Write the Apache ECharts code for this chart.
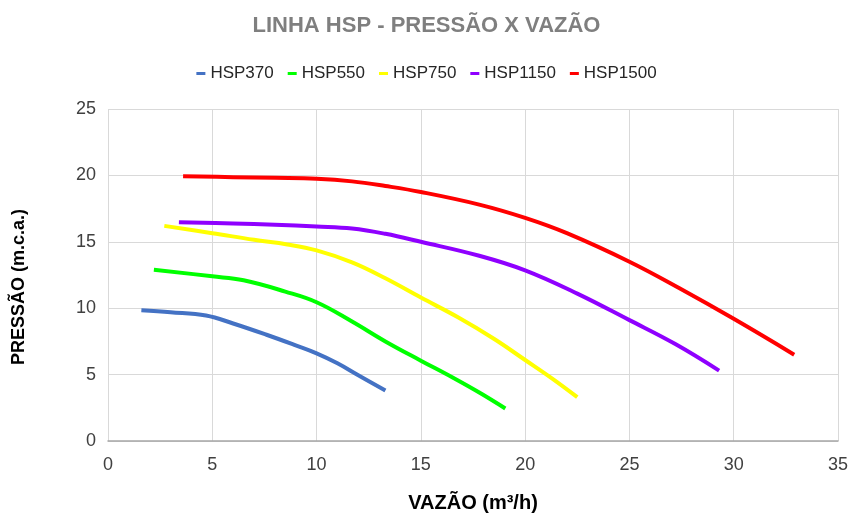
<!DOCTYPE html>
<html><head><meta charset="utf-8">
<script src="https://cdn.jsdelivr.net/npm/echarts@6/dist/echarts.min.js"></script>
<style>html,body{margin:0;padding:0;background:#fff}#c{width:853px;height:518px}</style>
</head><body><div id="c"></div>
<script>
const seriesNames = ['HSP370','HSP550','HSP750','HSP1150','HSP1500'];
const seriesColors = ['#4472C4','#00FF00','#FFFF00','#8F00FF','#FF0000'];
const hsp370 = [[1.6,9.85],[3,9.7],[4.7,9.45],[6,8.85],[7.6,8.0],[9,7.2],[10,6.6],[11,5.85],[12,4.95],[13.3,3.8]];
const hsp550 = [[2.2,12.9],[5,12.4],[6.5,12.1],[8.5,11.25],[10,10.45],[11.7,9.0],[13.3,7.5],[15,6.05],[16.5,4.8],[17.8,3.65],[19.05,2.45]];
const hsp750 = [[2.7,16.2],[5,15.65],[7,15.15],[8.6,14.8],[10,14.35],[11.7,13.45],[13.3,12.25],[15,10.8],[16.8,9.3],[18.5,7.7],[20,6.1],[21.3,4.7],[22.5,3.3]];
const hsp1150 = [[3.4,16.48],[6,16.38],[8,16.28],[10,16.15],[11.7,16.0],[13.3,15.6],[15,15.0],[17.8,13.95],[20,12.85],[22.5,11.1],[25,9.1],[27.2,7.3],[29.3,5.3]];
const hsp1500 = [[3.6,19.93],[6,19.87],[8,19.82],[10,19.75],[11.7,19.55],[13.3,19.2],[15,18.75],[17.8,17.8],[20,16.8],[22,15.65],[25,13.5],[27.4,11.5],[30,9.2],[32.9,6.5]];
const xTicks = {min:0, max:35, interval:5};
const yTicks = {min:0, max:25, interval:5};
const allData = [hsp370,hsp550,hsp750,hsp1150,hsp1500];

const font = 'Liberation Sans';
const chart = echarts.init(document.getElementById('c'));
chart.setOption({
  animation:false,
  title:{text:'LINHA HSP - PRESSÃO X VAZÃO',left:'center',top:10,
    textStyle:{fontFamily:font,fontSize:22,fontWeight:'bold',color:'#7f7f7f'}},
  legend:{top:60,left:'center',itemWidth:9,itemHeight:3,itemGap:14,icon:'rect',
    textStyle:{fontFamily:font,fontSize:17,color:'#262626'},
    data:seriesNames},
  grid:{left:108,right:15,top:109,bottom:75},
  xAxis:{type:'value',min:xTicks.min,max:xTicks.max,interval:xTicks.interval,
    name:'VAZÃO (m³/h)',nameLocation:'middle',nameGap:52,
    nameTextStyle:{fontFamily:font,fontSize:20,fontWeight:'bold',color:'#000'},
    axisLine:{lineStyle:{color:'#a6a6a6',width:1.5}},axisTick:{show:false},
    axisLabel:{fontFamily:font,fontSize:18,color:'#404040',margin:15},
    splitLine:{show:true,lineStyle:{color:'#d9d9d9'}}},
  yAxis:{type:'value',min:yTicks.min,max:yTicks.max,interval:yTicks.interval,
    name:'PRESSÃO (m.c.a.)',nameLocation:'middle',nameGap:80,
    nameTextStyle:{fontFamily:font,fontSize:18,fontWeight:'bold',color:'#000',padding:[0,24,0,0]},
    axisLine:{show:false},axisTick:{show:false},
    axisLabel:{fontFamily:font,fontSize:18,color:'#404040',margin:12},
    splitLine:{show:true,lineStyle:{color:'#d9d9d9'}}},
  series: seriesNames.map((n,i)=>({
    name:n,type:'line',smooth:0.4,showSymbol:false,symbol:'none',
    data:allData[i],color:seriesColors[i],
    lineStyle:{width:4,color:seriesColors[i]}
  }))
});
</script></body></html>
